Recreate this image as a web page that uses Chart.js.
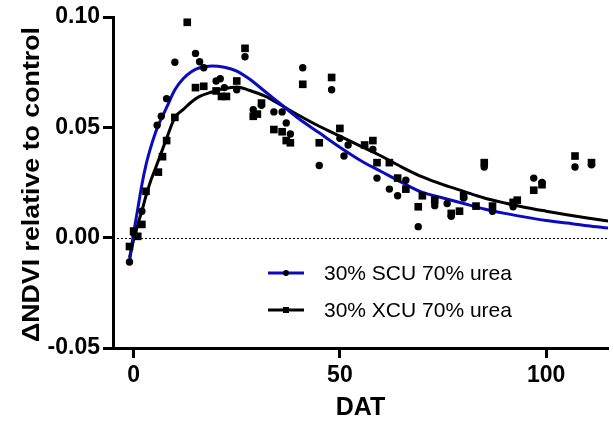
<!DOCTYPE html>
<html>
<head>
<meta charset="utf-8">
<script src="https://cdn.jsdelivr.net/npm/chart.js@4.4.1/dist/chart.umd.min.js"></script>
<style>
  html, body { margin: 0; padding: 0; background: #fff; }
</style>
</head>
<body>
<canvas id="chart" width="614" height="423"></canvas>
<script>
// Measured points: days after treatment vs. NDVI difference
const scuDays  = [-1, 0, 2, 5.7, 6.7, 8, 10, 15, 16, 17, 20, 21, 22, 25, 27, 29, 31, 34, 36, 37, 38, 41, 45, 48, 50, 51, 52, 58, 59, 62, 64, 66, 69, 73, 76, 77, 80, 85, 87, 92, 97, 99, 107, 111];
const scuDelta = [-0.011, 0.002, 0.012, 0.051, 0.055, 0.063, 0.0795, 0.0835, 0.0797, 0.077, 0.071, 0.072, 0.068, 0.067, 0.082, 0.058, 0.060, 0.057, 0.057, 0.052, 0.047, 0.077, 0.0327, 0.067, 0.045, 0.037, 0.042, 0.040, 0.027, 0.022, 0.019, 0.026, 0.005, 0.0145, 0.0155, 0.0097, 0.018, 0.032, 0.012, 0.014, 0.027, 0.025, 0.032, 0.033];

const xcuDays  = [-1, 0, 1, 2, 3, 6, 7, 8, 10, 13, 15, 17, 20, 21.3, 22.5, 25, 27, 29, 30, 31, 34, 36, 37, 38, 41, 45, 48, 50, 56, 58, 59, 62, 64, 66, 69, 70, 73, 77, 79, 80, 83, 85, 87, 92, 93, 97, 99, 107, 111];
const xcuDelta = [-0.004, 0.003, 0.0006, 0.006, 0.021, 0.0297, 0.0367, 0.044, 0.0545, 0.0976, 0.068, 0.0686, 0.0665, 0.064, 0.064, 0.071, 0.0858, 0.055, 0.056, 0.061, 0.049, 0.048, 0.044, 0.043, 0.0695, 0.043, 0.0726, 0.0495, 0.042, 0.044, 0.034, 0.034, 0.027, 0.022, 0.014, 0.019, 0.017, 0.011, 0.012, 0.019, 0.0143, 0.034, 0.0143, 0.016, 0.017, 0.0215, 0.024, 0.037, 0.034];

// Fitted response curves, sampled along DAT
const fitDays = [-1, 0, 1, 2, 3, 4, 5, 6, 7, 8, 10, 12, 14, 16, 19, 22, 25, 28, 32, 36, 40, 45, 50, 55, 60, 65, 70, 75, 80, 85, 90, 95, 100, 105, 110, 115];
const scuFit  = [-0.011, 0.002, 0.013, 0.024, 0.033, 0.040, 0.046, 0.051, 0.055, 0.059, 0.067, 0.072, 0.0752, 0.077, 0.0778, 0.0772, 0.0755, 0.072, 0.066, 0.060, 0.054, 0.0475, 0.041, 0.035, 0.030, 0.025, 0.0205, 0.018, 0.0155, 0.013, 0.011, 0.0093, 0.0078, 0.0066, 0.0054, 0.0044];
const xcuFit  = [-0.009, -0.001, 0.006, 0.012, 0.019, 0.025, 0.030, 0.035, 0.040, 0.045, 0.0545, 0.058, 0.0615, 0.064, 0.066, 0.0676, 0.0683, 0.0668, 0.064, 0.0598, 0.0555, 0.0505, 0.046, 0.0415, 0.037, 0.032, 0.0275, 0.024, 0.021, 0.018, 0.0157, 0.0137, 0.012, 0.0104, 0.0089, 0.0075];

const xTicks = [0, 50, 100];
const yTicks = [-0.05, 0, 0.05, 0.10];
const seriesNames = ['30% SCU 70% urea', '30% XCU 70% urea'];
const yTitle = '\u0394NDVI relative to control';

const BLUE = '#0a0ac0';
const FONT = '"Liberation Sans", Arial, sans-serif';

const zip = (xs, ys) => xs.map((x, i) => ({ x, y: ys[i] }));

// dotted baseline at zero
const zeroLine = {
  id: 'zeroLine',
  beforeDatasetsDraw(chart) {
    const { ctx, chartArea, scales } = chart;
    const y = Math.round(scales.y.getPixelForValue(0)) + 0.5;
    ctx.save();
    ctx.strokeStyle = '#000';
    ctx.lineWidth = 1;
    ctx.setLineDash([2, 2]);
    ctx.beginPath();
    ctx.moveTo(chartArea.left, y);
    ctx.lineTo(chartArea.right, y);
    ctx.stroke();
    ctx.restore();
  }
};

// vertical axis title, stretched a little along its length
const sideTitle = {
  id: 'sideTitle',
  afterDraw(chart) {
    const { ctx, chartArea } = chart;
    ctx.save();
    ctx.translate(33, (chartArea.top + chartArea.bottom) / 2 + 2);
    ctx.rotate(-Math.PI / 2);
    ctx.font = `bold 23px ${FONT}`;
    const w = ctx.measureText(yTitle).width;
    ctx.scale(315 / w, 1);
    ctx.fillStyle = '#000';
    ctx.textAlign = 'center';
    ctx.textBaseline = 'middle';
    ctx.fillText(yTitle, 0, 0);
    ctx.restore();
  }
};

// legend inside the plot: line + marker + label
const insideLegend = {
  id: 'insideLegend',
  afterDraw(chart) {
    const { ctx, chartArea } = chart;
    const x0 = chartArea.left + 155;
    const rows = [
      { y: chartArea.top + 256, color: BLUE, marker: 'circle', text: seriesNames[0] },
      { y: chartArea.top + 293, color: '#000', marker: 'rect', text: seriesNames[1] }
    ];
    ctx.save();
    rows.forEach(r => {
      ctx.strokeStyle = r.color;
      ctx.lineWidth = 3;
      ctx.beginPath();
      ctx.moveTo(x0, r.y);
      ctx.lineTo(x0 + 36, r.y);
      ctx.stroke();
      ctx.fillStyle = '#000';
      if (r.marker === 'circle') {
        ctx.beginPath();
        ctx.arc(x0 + 18, r.y, 3, 0, Math.PI * 2);
        ctx.fill();
      } else {
        ctx.fillRect(x0 + 15, r.y - 3, 6, 6);
      }
      ctx.font = `21px ${FONT}`;
      ctx.textBaseline = 'middle';
      ctx.textAlign = 'left';
      ctx.fillText(r.text, x0 + 56, r.y + 1);
    });
    ctx.restore();
  }
};

const tickFont = { family: FONT, size: 23, weight: 'bold' };

new Chart(document.getElementById('chart'), {
  type: 'scatter',
  data: {
    datasets: [
      {
        label: seriesNames[0] + ' data',
        data: zip(scuDays, scuDelta),
        pointStyle: 'circle',
        pointRadius: 3.7,
        backgroundColor: '#000',
        borderWidth: 0,
        order: 0
      },
      {
        label: seriesNames[1] + ' data',
        data: zip(xcuDays, xcuDelta),
        pointStyle: 'rect',
        pointRadius: 5.4,
        backgroundColor: '#000',
        borderWidth: 0,
        order: 0
      },
      {
        label: seriesNames[0],
        type: 'line',
        data: zip(fitDays, scuFit),
        borderColor: BLUE,
        borderWidth: 3,
        pointRadius: 0,
        fill: false,
        cubicInterpolationMode: 'monotone',
        order: 1
      },
      {
        label: seriesNames[1],
        type: 'line',
        data: zip(fitDays, xcuFit),
        borderColor: '#000',
        borderWidth: 3,
        pointRadius: 0,
        fill: false,
        cubicInterpolationMode: 'monotone',
        order: 2
      }
    ]
  },
  options: {
    responsive: false,
    animation: false,
    layout: { padding: { left: 0, right: 6, top: 17, bottom: 0 } },
    plugins: {
      legend: { display: false },
      tooltip: { enabled: false }
    },
    scales: {
      x: {
        type: 'linear',
        min: -5,
        max: 115,
        afterBuildTicks: s => { s.ticks = xTicks.map(v => ({ value: v })); },
        afterFit: s => { s.height = 75; },
        border: { color: '#000', width: 3 },
        grid: { drawOnChartArea: false, tickLength: 10, tickWidth: 3, tickColor: '#000' },
        ticks: { color: '#000', font: tickFont, padding: 4, maxRotation: 0 },
        title: {
          display: true,
          text: 'DAT',
          color: '#000',
          font: { family: FONT, size: 25, weight: 'bold' },
          padding: { top: 0, bottom: 0 }
        }
      },
      y: {
        type: 'linear',
        min: -0.05,
        max: 0.10,
        afterBuildTicks: s => { s.ticks = yTicks.map(v => ({ value: v })); },
        afterFit: s => { s.width = 113; },
        border: { color: '#000', width: 3 },
        grid: { drawOnChartArea: false, tickLength: 10, tickWidth: 3, tickColor: '#000' },
        ticks: { color: '#000', font: tickFont, padding: 3, callback: v => v.toFixed(2) }
      }
    }
  },
  plugins: [zeroLine, sideTitle, insideLegend]
});
</script>
</body>
</html>
